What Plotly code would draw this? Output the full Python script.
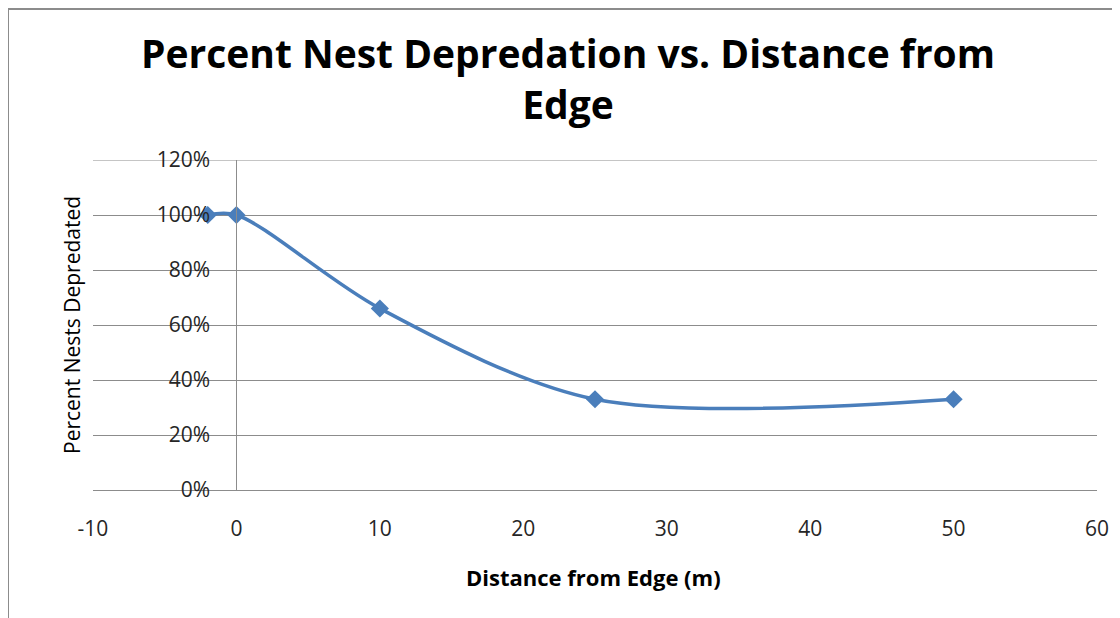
import plotly.graph_objects as go

distance_m = [-2, 0, 10, 25, 50]
pct_depredated = [1.00, 1.00, 0.66, 0.33, 0.33]
y_ticks = [0, 0.2, 0.4, 0.6, 0.8, 1.0, 1.2]
y_tick_labels = ["0%", "20%", "40%", "60%", "80%", "100%", "120%"]
x_ticks = [-10, 0, 10, 20, 30, 40, 50, 60]

# the page body adds an 8px offset; build the figure in screen pixels minus it
OFF = 8
W, H = 1120 - OFF, 618 - OFF
L, R, T, B = 93 - OFF, 23, 160 - OFF, 128
pw, ph = W - L - R, H - T - B

def px_x(p):
    return (p - OFF - L) / pw

def px_y(p):
    return (H - B - (p - OFF)) / ph

fig = go.Figure()
fig.add_trace(go.Scatter(
    x=distance_m, y=pct_depredated, mode="lines+markers",
    line=dict(color="#4A7EBB", width=3.5, shape="spline", smoothing=0.9),
    marker=dict(symbol="diamond", size=14, color="#4A7EBB"),
    showlegend=False, hoverinfo="skip",
))

font_main = "Open Sans, DejaVu Sans, sans-serif"

fig.update_layout(
    width=W, height=H,
    margin=dict(l=L, r=R, t=T, b=B),
    paper_bgcolor="white", plot_bgcolor="white",
    title=dict(
        text="<b>Percent Nest Depredation vs. Distance from<br>Edge</b>",
        font=dict(family=font_main, size=39, color="black"),
        x=px_x(568), xref="paper", xanchor="center",
        y=1 - (68 - OFF) / H, yref="container", yanchor="middle",
    ),
    xaxis=dict(
        range=[-10, 60], tickvals=x_ticks, ticktext=[str(v) for v in x_ticks],
        showgrid=False, zeroline=False, showline=True, linecolor="#8C8C8C", linewidth=1,
        ticks="", ticklabelstandoff=20,
        tickfont=dict(family=font_main, size=21, color="#262626"),
    ),
    yaxis=dict(
        range=[0, 1.2], tickvals=y_ticks, ticktext=y_tick_labels,
        anchor="free", position=10 / 70,
        showgrid=True, gridcolor="#8C8C8C", gridwidth=1,
        zeroline=False, showline=True, linecolor="#8C8C8C", linewidth=1,
        ticks="", ticklabelstandoff=22,
        tickfont=dict(family=font_main, size=21, color="#262626"),
    ),
    annotations=[
        dict(text="Percent Nests Depredated", textangle=-90,
             x=px_x(72), y=px_y(325), xref="paper", yref="paper",
             xanchor="center", yanchor="middle", showarrow=False,
             font=dict(family=font_main, size=21, color="black")),
        dict(text="<b>Distance from Edge (m)</b>",
             x=px_x(593), y=px_y(577), xref="paper", yref="paper",
             xanchor="center", yanchor="middle", showarrow=False,
             font=dict(family=font_main, size=22, color="black")),
    ],
    shapes=[
        # top gridline at 120% (plotly drops gridlines on the plot edge)
        dict(type="line", xref="paper", yref="y", x0=0, x1=1,
             y0=y_ticks[-1], y1=y_ticks[-1], layer="below",
             line=dict(color="#8C8C8C", width=1)),
        dict(type="line", xref="paper", yref="paper",
             x0=px_x(8), x1=px_x(1125), y0=px_y(9), y1=px_y(9),
             line=dict(color="#8C8C8C", width=2)),
        dict(type="line", xref="paper", yref="paper",
             x0=px_x(8), x1=px_x(8), y0=px_y(9), y1=px_y(625),
             line=dict(color="#8C8C8C", width=2)),
    ],
)

fig.write_html("out.html")
